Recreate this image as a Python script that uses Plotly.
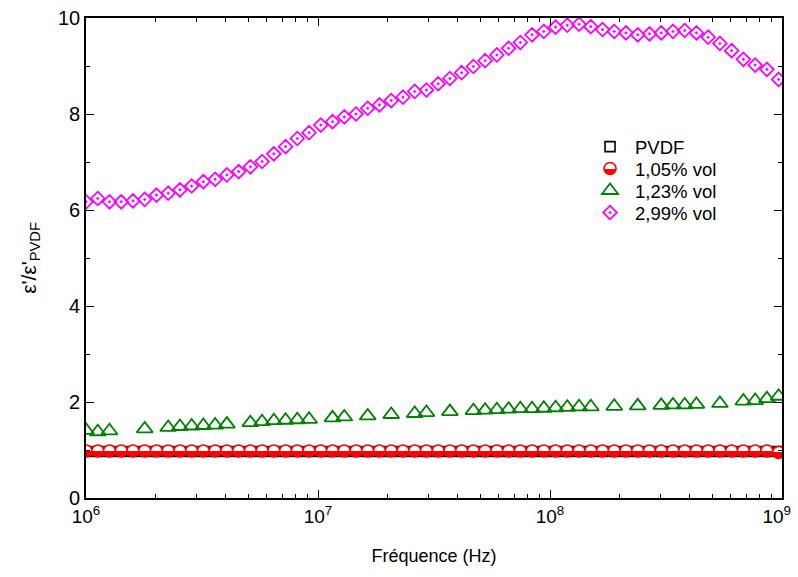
import plotly.graph_objects as go

# Frequency grid (Hz)
freq = [1.000e6, 1.124e6, 1.262e6, 1.418e6, 1.594e6, 1.791e6, 2.012e6, 2.261e6, 2.540e6, 2.854e6,
        3.206e6, 3.603e6, 4.048e6, 4.548e6, 5.110e6, 5.741e6, 6.451e6, 7.248e6, 8.143e6, 9.149e6,
        1.028e7, 1.155e7, 1.298e7, 1.458e7, 1.638e7, 1.841e7, 2.068e7, 2.324e7, 2.611e7, 2.933e7,
        3.296e7, 3.703e7, 4.160e7, 4.674e7, 5.252e7, 5.902e7, 6.630e7, 7.450e7, 8.370e7, 9.406e7,
        1.057e8, 1.187e8, 1.334e8, 1.499e8, 1.684e8, 1.892e8, 2.126e8, 2.389e8, 2.684e8, 3.016e8,
        3.388e8, 3.807e8, 4.277e8, 4.806e8, 5.400e8, 6.067e8, 6.817e8, 7.660e8, 8.606e8, 9.670e8]

pvdf = [0.97] * 60

vol105 = [0.98] * 59 + [0.95]

green_idx = [0, 1, 2, 5, 7, 8, 9, 10, 11, 12, 14, 15, 16, 17, 18, 19, 21, 22, 24, 26, 28, 29, 31,
             33, 34, 35, 36, 37, 38, 39, 40, 41, 42, 43, 45, 47, 49, 50, 51, 52, 54, 56, 57, 58, 59]
vol123 = [1.41, 1.38, 1.40, 1.44, 1.47, 1.49, 1.50, 1.51, 1.52, 1.54, 1.57, 1.59, 1.61, 1.62, 1.63,
          1.64, 1.67, 1.69, 1.71, 1.74, 1.76, 1.78, 1.80, 1.82, 1.83, 1.84, 1.85, 1.86, 1.86, 1.87,
          1.88, 1.89, 1.90, 1.90, 1.91, 1.92, 1.93, 1.94, 1.94, 1.95, 1.97, 2.02, 2.03, 2.07, 2.12]

vol299 = [6.17, 6.24, 6.17, 6.17, 6.19, 6.22, 6.31, 6.35, 6.42, 6.50,
          6.59, 6.64, 6.73, 6.80, 6.90, 7.01, 7.17, 7.32, 7.49, 7.61,
          7.77, 7.84, 7.94, 8.00, 8.12, 8.19, 8.28, 8.35, 8.47, 8.50,
          8.63, 8.74, 8.86, 8.99, 9.11, 9.23, 9.37, 9.49, 9.65, 9.72,
          9.81, 9.85, 9.87, 9.82, 9.76, 9.72, 9.69, 9.65, 9.67, 9.69,
          9.72, 9.74, 9.69, 9.60, 9.47, 9.32, 9.14, 9.02, 8.93, 8.72]

names = ["PVDF", "1,05% vol", "1,23% vol", "2,99% vol"]

x_tickvals = [1e6, 1e7, 1e8, 1e9]
# last label padded on the right so it stays inside the page, as in the original
x_ticktext = ["10<sup>6</sup>", "10<sup>7</sup>", "10<sup>8</sup>", "10<sup>9</sup>\u00a0\u00a0"]

FONT = "Arial, Liberation Sans, sans-serif"

fig = go.Figure()
fig.add_trace(go.Scatter(
    x=freq, y=pvdf, mode="markers", name=names[0], legend="legend", showlegend=True,
    marker=dict(symbol="square-open", size=10, color="black", line=dict(width=1.6, color="black"))))
fig.add_trace(go.Scatter(
    x=freq, y=vol105, mode="markers", name=names[1], legend="legend2", showlegend=True,
    marker=dict(symbol="circle", size=12, color="white",
                gradient=dict(type="vertical", color="#FF0000"),
                line=dict(width=1.6, color="#FF0000"))))
fig.add_trace(go.Scatter(
    x=[freq[i] for i in green_idx], y=vol123, mode="markers", name=names[2], legend="legend3",
    showlegend=True,
    marker=dict(symbol="triangle-up-open", size=14, color="#008000", line=dict(width=1.8, color="#008000"))))
fig.add_trace(go.Scatter(
    x=freq, y=vol299, mode="markers", name=names[3], legend="legend4", showlegend=True,
    marker=dict(symbol="diamond-open-dot", size=10.5, color="#FF00FF", line=dict(width=1.8, color="#FF00FF"))))

axis_common = dict(
    showline=True, linecolor="black", linewidth=1.6, mirror="ticks",
    ticks="inside", tickcolor="black", tickwidth=1.4, ticklen=8,
    showgrid=False, zeroline=False, automargin=False, ticklabeloverflow="allow",
)

fig.update_xaxes(
    type="log", range=[6, 9], tickmode="array", tickvals=x_tickvals, ticktext=x_ticktext,
    tickfont=dict(family=FONT, size=19, color="black"),
    minor=dict(ticks="inside", ticklen=4, tickwidth=1.2, tickcolor="black", dtick="D1", showgrid=False),
    title=dict(text="Fréquence (Hz)", font=dict(family=FONT, size=18, color="black"), standoff=24),
    **axis_common)
fig.update_yaxes(
    range=[0, 10], dtick=2,
    tickfont=dict(family=FONT, size=20, color="black"),
    minor=dict(ticks="inside", ticklen=4, tickwidth=1.2, tickcolor="black", dtick=1, showgrid=False),
    title=dict(text="ε'/ε'<sub>PVDF</sub>", font=dict(family=FONT, size=21, color="black"), standoff=16),
    **axis_common)

legend_rows = [0.731, 0.6854, 0.6396, 0.5938]
leg_common = dict(x=0.717, xanchor="left", yanchor="middle", itemwidth=40,
                  bgcolor="rgba(0,0,0,0)", font=dict(family=FONT, size=18.5, color="black"))

fig.update_layout(
    width=798, height=577,
    margin=dict(l=86, r=16, t=18, b=79),
    plot_bgcolor="white", paper_bgcolor="white",
    font=dict(family=FONT, color="black"),
    showlegend=True,
    legend=dict(y=legend_rows[0], **leg_common),
    legend2=dict(y=legend_rows[1], **leg_common),
    legend3=dict(y=legend_rows[2], **leg_common),
    legend4=dict(y=legend_rows[3], **leg_common),
)

post = """
document.body.style.margin = '0';
document.body.style.overflow = 'hidden';
var gd = document.getElementById('{plot_id}');
function fixGrad(){
  document.querySelectorAll('linearGradient').forEach(function(g){
    g.querySelectorAll('stop').forEach(function(s){ s.setAttribute('offset','50%'); });
  });
}
fixGrad();
gd.on('plotly_afterplot', fixGrad);
"""

fig.write_html("out.html", post_script=post, config={"displayModeBar": False})
